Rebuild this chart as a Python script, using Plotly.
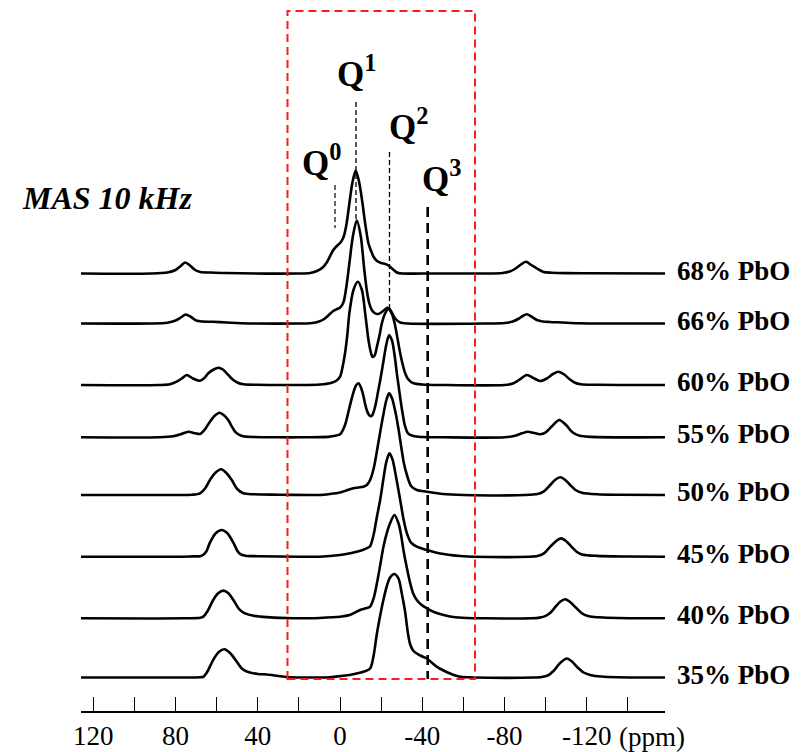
import plotly.graph_objects as go

# ---------------- data (ppm positions and intensities) ----------------
PPM_68 = [126.5, 92, 84, 80, 77.5, 75.4, 73, 70.5, 68, 63, 56, 20, 14.6, 11.3, 8.5, 6.5, 4.5, 3.3, 1.6, 0,
          -1.6, -3, -4.5, -6, -7.6, -9.2, -10.7, -12.2, -13.8, -15, -16.2, -17.9, -20, -22, -23.5, -25.5,
          -27.6, -30, -40, -70, -79, -82.5, -85, -87.6, -90.4, -93, -95.7, -98.9, -103, -110, -120, -158]
I_68 = [0, 0, 1, 3.5, 7.5, 11, 8, 3.5, 1.5, 1, 0.5, 0, 0.5, 2.5, 6, 11, 19, 23.5, 27.5, 30.5,
        36, 48, 70, 91, 103, 92, 73, 50, 30, 23, 17, 12.5, 10.5, 9.5, 8, 4.5,
        1, 0, 0, 0, 0.5, 2, 4.5, 8.5, 11.7, 8.5, 5, 1.5, 0.8, 0.4, 0.2, 0]

PPM_66 = [126.5, 92, 84, 80, 77.5, 75.1, 72.5, 70, 67, 62, 55, 48, 20, 14.6, 11, 8.1, 5.5, 3.3, 1.6, 0,
          -1.6, -3, -4.5, -6.2, -8.1, -10, -11.7, -13, -14.2, -15.4, -16.8, -18.5, -20.3, -21.8, -23,
          -24.3, -25.5, -27, -29.2, -33, -70, -80, -84, -87, -88.8, -90.8, -93, -95.7, -98.5, -102, -108,
          -116, -158]
I_66 = [0, 0, 0.8, 3, 6, 9, 6.5, 3, 2, 1.7, 1, 0.3, 0, 0.3, 1.5, 4, 8.5, 12.5, 14.3, 16,
        21, 36, 60, 87, 103, 88, 55, 33, 20, 13.5, 10.5, 9.5, 11.5, 14, 15.6,
        14, 9.5, 4.5, 1, 0, 0, 0.5, 2, 5, 7.5, 9.3, 7, 3.5, 2, 1.5, 1,
        0.3, 0]

PPM_60 = [126.5, 88, 82.7, 79.5, 77, 74.6, 71.5, 68.1, 66, 64.1, 61.5, 59.2, 57, 55.1, 52.5, 50, 47, 40, 30,
          20, 9.7, 4.9, 2, 0, -1.2, -2.4, -3.5, -4.5, -6.5, -8.6, -10.6, -12.2, -13.8, -14.8, -15.8,
          -16.8, -17.9, -19.2, -20.3, -22, -23.5, -25.2, -26.5, -27.8, -29.2, -30.5, -31.6, -33, -35.7,
          -40, -50, -80, -84, -87, -90.8, -94, -97.3, -100.5, -103.5, -106.2, -109, -111.5, -114, -117,
          -125, -158]
I_60 = [0, 0, 0.7, 3.3, 6.5, 10, 6.5, 4.3, 7, 11.7, 15.5, 17.3, 15.5, 11.7, 6, 2.5, 0.7, 0.2, 0,
        0, 0.5, 1.7, 4, 8.3, 18, 31.7, 50, 71.7, 95, 103.3, 95, 71.7, 45, 34, 28,
        29.5, 38.3, 50, 61.7, 72, 76, 71, 62, 48, 32, 20, 12, 6, 1.7,
        0.5, 0, 0, 1.5, 5, 10, 7, 4, 6.5, 11, 13.3, 10.5, 6, 2.5, 0.7,
        0.2, 0]

PPM_55 = [126.5, 88, 81.1, 77.5, 73.8, 70.5, 68.1, 65.7, 63.3, 61, 58.7, 56.5, 54.4, 52.7, 51.1, 49, 47.1,
          42, 30, 20, 4.9, 0, -1.6, -2.8, -4.0, -5.3, -6.5, -7.8, -8.9, -10.1, -11.3, -12.2, -13, -14,
          -14.8, -15.6, -16.4, -17.3, -18.4, -19.5, -21, -22.5, -23.8, -25.2, -26.5, -27.6, -28.4, -29.2,
          -30.3, -31.6, -33, -35.7, -40, -50, -80, -85, -88.5, -91.3, -94, -97.3, -100, -103, -106.6,
          -110, -113, -116.5, -122, -158]
I_55 = [0, 0, 1, 3, 5.6, 4, 3.3, 8, 15.6, 21.5, 24.6, 22, 17.3, 11, 5.6, 2.5, 1,
        0.3, 0, 0, 0.7, 3, 8.3, 15, 25, 36, 45, 52, 54, 50, 41.7, 33, 27, 22.5,
        21, 22, 26, 33, 45, 57, 75, 93, 102, 97, 82, 64, 52, 40,
        25, 11, 4, 1.2, 0.3, 0, 0, 1.5, 4, 5.6, 4.5, 3, 5, 11, 17.3,
        12, 5, 1.5, 0.4, 0]

PPM_50 = [126.5, 80, 72, 68.1, 65.5, 63.3, 60.5, 57.9, 55.3, 52.7, 50, 47.1, 42, 30, 15, 10, 5, 0, -3,
          -6.5, -9, -11.3, -13, -14.6, -16.5, -18, -19.5, -21, -22.5, -23.8, -25.2, -26.8, -28.4, -29.8,
          -31, -32.5, -34.5, -37.3, -42.2, -50, -60, -90, -96, -98.9, -102.2, -104.5, -107.1, -109.5,
          -111.9, -114.5, -117.6, -125, -135, -158]
I_50 = [0, 0, 0.3, 1.7, 7, 15, 22.5, 25.7, 22, 15, 6, 1.7, 0.7, 0.3, 0, 0, 1, 2.5, 4.5,
        6.8, 7.5, 8.3, 10, 15, 28, 45, 63, 80, 95, 101.7, 97, 84, 66, 47,
        32, 20, 9, 5, 3.3, 1, 0, 0, 1, 3.3, 10, 15, 17.7, 15,
        10, 5, 2.3, 0.7, 0.2, 0]

PPM_45 = [126.5, 80, 72, 68, 66.5, 65, 63.3, 60.5, 57.6, 54.8, 51.9, 50, 48.5, 46, 40, 20, 10, 0, -5,
          -9, -11.3, -13, -14.6, -16.3, -17.9, -19.5, -21, -22.5, -24, -25.5, -27.2, -29.2, -30.8, -32.5,
          -34.5, -37.3, -42.2, -46, -50.3, -55, -58.4, -65, -92, -96, -98.9, -102.2, -105, -107.5, -110,
          -112.5, -115, -117.6, -125, -140, -158]
I_45 = [0, 0, 0.3, 0.5, 2, 5.5, 14, 23.5, 26.7, 23.5, 14, 6, 2.5, 1, 0.5, 0, 0, 1.7, 3.5,
        5.5, 7, 8.5, 10.5, 22, 40, 57, 77, 95, 103.4, 97, 80, 57, 38, 23.3,
        14, 10, 6.7, 4.5, 2.7, 1.3, 0.7, 0, 0, 0.7, 3, 10, 15.5, 18.3, 15.5,
        10, 5, 2.3, 0.8, 0.2, 0]

PPM_40 = [126.5, 75, 68, 66.5, 64.5, 61.7, 59.3, 56.8, 54.3, 51.9, 49, 46.2, 42, 38.9, 32, 25.9, 15, 10,
          0, -1.6, -5, -9.7, -12.5, -14.6, -16.3, -17.9, -19.5, -21.1, -22.8, -24.3, -26.4, -28.4, -29.6,
          -30.8, -32.5, -34.1, -35.7, -37.3, -39.5, -42.2, -46, -50.3, -55, -61.6, -70, -93, -97, -100,
          -102.5, -104.5, -107, -109.5, -112, -114.5, -117.6, -121, -126, -135, -158]
I_40 = [0, 0, 0.5, 1.7, 7, 18.3, 25, 27.7, 25, 18.3, 9, 5, 2.5, 1.7, 0.7, 0.3, 0, 0.3,
        1.5, 2, 3.5, 8.3, 10, 11.7, 20, 35, 53, 71.7, 86, 95, 103.3, 95, 84,
        68.3, 50, 35, 24, 18.3, 13.5, 10, 6, 3.3, 1.3, 0.3, 0, 0, 0.7, 2.5,
        6, 11, 16.5, 19, 16, 11, 5, 2, 1, 0.3, 0]

PPM_35 = [126.5, 75, 68, 66.5, 64.5, 61.7, 59, 56.3, 53.5, 50.3, 47.8, 45.4, 40, 35.7, 30, 25.9, 18, 12,
          5, -1.6, -7, -11.3, -14.6, -16.3, -17.9, -19.5, -21.1, -22.8, -24.3, -26.4, -28.4, -30, -31.6,
          -33, -34.1, -35.5, -37.3, -39.5, -42.2, -44.5, -47.1, -50.3, -53.5, -56, -58.4, -65, -94, -98,
          -101, -104, -107, -110.3, -113, -115.5, -118.4, -122, -127, -135, -158]
I_35 = [0, 0, 0.3, 0.7, 6, 17.7, 25.5, 28.3, 24.5, 16, 9, 6, 3.5, 3, 1.5, 0.5, 0, 0,
        0.3, 1.7, 3.5, 5.7, 9, 22, 44, 62, 78, 92, 100, 103.5, 99, 84, 66,
        44, 33, 27, 24, 21.5, 19, 15, 10.7, 7, 4, 2, 0.7, 0, 0, 0.5,
        2, 7, 14.5, 19, 15.5, 10, 5, 2.3, 1, 0.3, 0]

SPECTRA_PPM = [PPM_68, PPM_66, PPM_60, PPM_55, PPM_50, PPM_45, PPM_40, PPM_35]
SPECTRA_INT = [I_68, I_66, I_60, I_55, I_50, I_45, I_40, I_35]
SAMPLE_LABELS = ["68% PbO", "66% PbO", "60% PbO", "55% PbO", "50% PbO", "45% PbO", "40% PbO", "35% PbO"]

TICK_VALS = [120, 80, 40, 0, -40, -80, -120]
TICK_TEXT = ["120", "80", "40", "0", "-40", "-80", "-120"]
MINOR_TICK_VALS = [120, 100, 80, 60, 40, 20, 0, -20, -40, -60, -80, -100, -120, -140]

# ---------------- layout constants (pixel geometry) ----------------
W, H = 806, 752
PLOT_L, PLOT_R = 81, 665
AXIS_Y = 711
X_RANGE = [126.0, -158.0]
PX_PER_PPM = (PLOT_R - PLOT_L) / (X_RANGE[0] - X_RANGE[1])

# baseline pixel rows of the stacked traces (top to bottom)
BASELINE_PX = [273.5, 323.5, 385.0, 437.3, 495.0, 556.7, 618.3, 677.5]


def px_x(px):
    return X_RANGE[0] - (px - PLOT_L) / PX_PER_PPM


def px_y(py):
    return AXIS_Y - py


def paper_x(px):
    return (px - PLOT_L) / (PLOT_R - PLOT_L)


def paper_y(py):
    return (AXIS_Y - py) / AXIS_Y


SERIF = "Liberation Serif, Times New Roman, serif"

fig = go.Figure()
for ppm, inten, base in zip(SPECTRA_PPM, SPECTRA_INT, BASELINE_PX):
    off = px_y(base)
    fig.add_trace(go.Scatter(
        x=ppm, y=[off + v for v in inten], mode="lines",
        line=dict(color="black", width=2.6, shape="spline", smoothing=0.8),
        hoverinfo="skip", showlegend=False))

shapes = [
    # red dashed box
    dict(type="rect", xref="x", yref="y", x0=px_x(287.5), x1=px_x(475), y0=px_y(679), y1=px_y(11),
         line=dict(color="#ff1a1a", width=2, dash="8px,5px"), fillcolor="rgba(0,0,0,0)", layer="above"),
    # Q0
    dict(type="line", xref="x", yref="y", x0=px_x(335), x1=px_x(335), y0=px_y(185), y1=px_y(228),
         line=dict(color="#444444", width=1.6, dash="5px,3px")),
    # Q1
    dict(type="line", xref="x", yref="y", x0=px_x(356), x1=px_x(356), y0=px_y(102), y1=px_y(221),
         line=dict(color="black", width=1.3, dash="5px,3px")),
    # Q2
    dict(type="line", xref="x", yref="y", x0=px_x(389.5), x1=px_x(389.5), y0=px_y(152), y1=px_y(308),
         line=dict(color="black", width=1.3, dash="5px,3px")),
    # Q3
    dict(type="line", xref="x", yref="y", x0=px_x(427.7), x1=px_x(427.7), y0=px_y(207), y1=px_y(679),
         line=dict(color="black", width=2.6, dash="10px,6px")),
]

annotations = []
for lab, base in zip(SAMPLE_LABELS, BASELINE_PX):
    annotations.append(dict(x=paper_x(675), y=paper_y(base - 3), xref="paper", yref="paper",
                            text="<b>%s</b>" % lab, showarrow=False, xanchor="left", yanchor="middle",
                            font=dict(family=SERIF, size=27, color="black")))

q_labels = [("0", 300, 160), ("1", 335, 72), ("2", 387, 124), ("3", 420, 176)]
for sup, qx, qy in q_labels:
    annotations.append(dict(x=paper_x(qx), y=paper_y(qy), xref="paper", yref="paper",
                            text="<b>Q<sup>%s</sup></b>" % sup, showarrow=False,
                            xanchor="left", yanchor="middle",
                            font=dict(family=SERIF, size=35, color="black")))

annotations.append(dict(x=paper_x(20), y=paper_y(198), xref="paper", yref="paper",
                        text="<b><i>MAS 10 kHz</i></b>", showarrow=False, xanchor="left", yanchor="middle",
                        font=dict(family=SERIF, size=32, color="black")))
annotations.append(dict(x=paper_x(652), y=paper_y(737), xref="paper", yref="paper", text="(ppm)",
                        showarrow=False, xanchor="center", yanchor="middle",
                        font=dict(family=SERIF, size=27, color="black")))

fig.update_layout(
    width=W, height=H,
    margin=dict(l=PLOT_L, r=W - PLOT_R, t=0, b=H - AXIS_Y, pad=0),
    plot_bgcolor="white", paper_bgcolor="white",
    showlegend=False,
    shapes=shapes, annotations=annotations,
    xaxis=dict(range=X_RANGE, showline=True, linecolor="black", linewidth=1.5,
               ticks="inside", ticklen=14, tickwidth=1.2, tickcolor="black",
               tickmode="array", tickvals=TICK_VALS, ticktext=TICK_TEXT,
               tickfont=dict(family=SERIF, size=27, color="black"),
               minor=dict(tickmode="array", tickvals=MINOR_TICK_VALS, ticks="inside", ticklen=14,
                          tickwidth=1.2, tickcolor="black", showgrid=False),
               showgrid=False, zeroline=False, fixedrange=True),
    yaxis=dict(range=[0, AXIS_Y], visible=False, showgrid=False, zeroline=False, fixedrange=True),
)

fig.write_html("out.html")
